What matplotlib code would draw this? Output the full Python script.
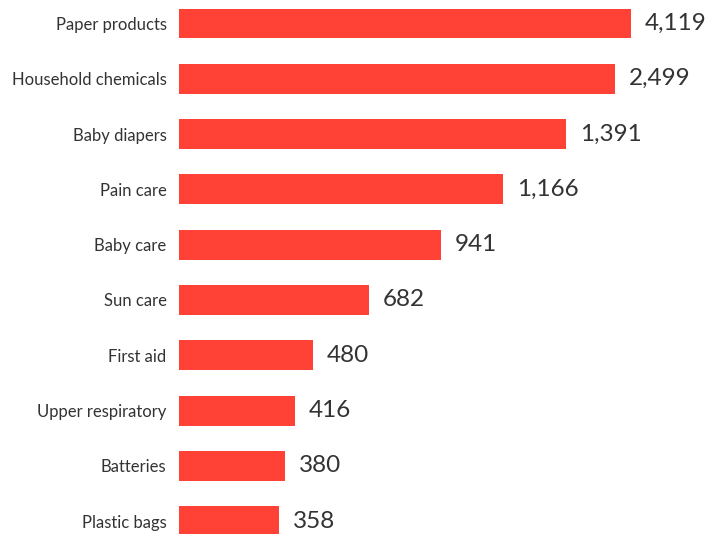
import numpy as np
import matplotlib
matplotlib.use("Agg")
import matplotlib.pyplot as plt

categories = ["Paper products", "Household chemicals", "Baby diapers", "Pain care",
              "Baby care", "Sun care", "First aid", "Upper respiratory",
              "Batteries", "Plastic bags"]
values = [4119, 2499, 1391, 1166, 941, 682, 480, 416, 380, 358]
labels = ["4,119", "2,499", "1,391", "1,166", "941", "682", "480", "416", "380", "358"]

BAR_COLOR = "#FF4136"
TEXT_COLOR = "#333333"

# the two largest bars are squeezed in the original, so the axis is
# linear up to the third bar and then compressed
knots_val = [0, 1391, 2499, 4119]
knots_pos = [0, 387, 436, 452]


def forward(x):
    return np.interp(x, knots_val, knots_pos)


def inverse(p):
    return np.interp(p, knots_pos, knots_val)


plt.rcParams['font.family'] = ['Lato', 'DejaVu Sans']

W, H = 724, 534
fig = plt.figure(figsize=(W / 100, H / 100), dpi=100)
# bars centred at 23 px + 55.2 px per row
pitch = 55.3
top = 23.5 - pitch / 2
ax = fig.add_axes([179 / W, 1 - (top + 10 * pitch) / H, 452 / W, 10 * pitch / H])

y = np.arange(len(categories))
ax.barh(y, values, height=0.54, color=BAR_COLOR)
ax.set_xscale('function', functions=(forward, inverse))
ax.set_xlim(0, 4119)
ax.set_ylim(9.5, -0.5)

for yi, v, lab in zip(y, values, labels):
    ax.annotate(lab, (v, yi), xytext=(10, 0), textcoords='offset points',
                va='center', ha='left', fontsize=17.5, color=TEXT_COLOR)

ax.set_yticks(y)
ax.set_yticklabels(categories, fontsize=12, color=TEXT_COLOR)
ax.tick_params(axis='y', length=0, pad=9)
ax.set_xticks([])
for s in ax.spines.values():
    s.set_visible(False)

fig.savefig("out.png", dpi=100)
